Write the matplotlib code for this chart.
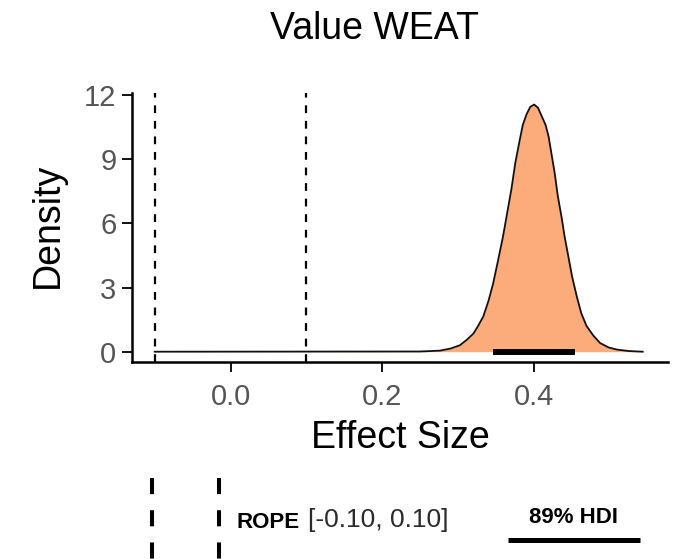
import numpy as np
import matplotlib.pyplot as plt

plt.rcParams['font.family'] = ['Liberation Sans', 'DejaVu Sans']

# posterior density
effect = [-0.100, 0.250, 0.276, 0.290, 0.302, 0.311, 0.320, 0.326, 0.333, 0.340,
          0.346, 0.352, 0.359, 0.364, 0.370, 0.375, 0.381, 0.385, 0.390, 0.395,
          0.400, 0.405, 0.410, 0.415, 0.419, 0.423, 0.427, 0.431, 0.436, 0.440,
          0.445, 0.450, 0.456, 0.462, 0.469, 0.478, 0.487, 0.498, 0.509, 0.525,
          0.543]
density = [0.00, 0.01, 0.05, 0.15, 0.30, 0.55, 0.85, 1.20, 1.65, 2.40,
           3.20, 4.20, 5.40, 6.40, 7.60, 8.80, 9.90, 10.60, 11.10, 11.45,
           11.55, 11.40, 11.00, 10.60, 10.05, 9.20, 8.35, 7.30, 6.30, 5.40,
           4.45, 3.50, 2.60, 1.80, 1.20, 0.75, 0.40, 0.20, 0.10, 0.03,
           0.00]
rope = [-0.10, 0.10]
hdi = [0.346, 0.454]
xticks = [0.0, 0.2, 0.4]
yticks = [0, 3, 6, 9, 12]

W, H = 677, 559
fig = plt.figure(figsize=(W/100, H/100), dpi=100)

# legend / annotation layer in pixel coords
lax = fig.add_axes([0, 0, 1, 1])
lax.set_xlim(0, W)
lax.set_ylim(H, 0)
lax.axis('off')

ax = fig.add_axes([131.7/W, 1-362.3/H, (668-131.7)/W, (362.3-93)/H])
ax.patch.set_alpha(0)

ax.fill_between(effect, density, color='#FCAB7A', lw=0, zorder=2)
ax.plot(effect, density, color='#111111', lw=1.3, zorder=3)
for r in rope:
    ax.axvline(r, color='black', lw=1.6, ls=(0, (3.5, 3.5)), zorder=4)
ax.plot(hdi, [0, 0], color='black', lw=4.3, solid_capstyle='butt', zorder=5)

ax.set_xlim(-0.1303, 0.5763)
ax.set_ylim(-0.495, 12.09)
ax.set_xticks(xticks)
ax.set_xticklabels([f'{t:.1f}' for t in xticks])
ax.set_yticks(yticks)
for s in ['top', 'right']:
    ax.spines[s].set_visible(False)
for s in ['left', 'bottom']:
    ax.spines[s].set_linewidth(1.8)
ax.tick_params(length=7, width=1.4, color='#111111', labelsize=21,
               labelcolor='#555555')
ax.tick_params(axis='x', pad=8)
ax.tick_params(axis='y', pad=4)

fig.text(374/W, 1-39/H, 'Value WEAT', ha='center', va='baseline', fontsize=27)
fig.text(400/W, 1-448/H, 'Effect Size', ha='center', va='baseline', fontsize=27)
fig.text(47.5/W, 1-225.5/H, 'Density', ha='center', va='center',
         rotation=90, fontsize=27)

# legend below the plot
for lx in [152.3, 219]:
    lax.plot([lx, lx], [478, 600], color='black', lw=2.9, ls=(0, (4, 4)))
lax.text(236, 527.5, 'ROPE', fontsize=16, fontweight='bold', va='baseline')
lax.text(308, 527.5, '[-0.10, 0.10]', fontsize=19, color='#2b2b2b', va='baseline')
lax.text(573, 523, '89% HDI', fontsize=16, fontweight='bold', ha='center',
         va='baseline')
lax.plot([508, 640], [540, 540], color='black', lw=3.6, solid_capstyle='butt')

fig.savefig('out.png', dpi=100)
